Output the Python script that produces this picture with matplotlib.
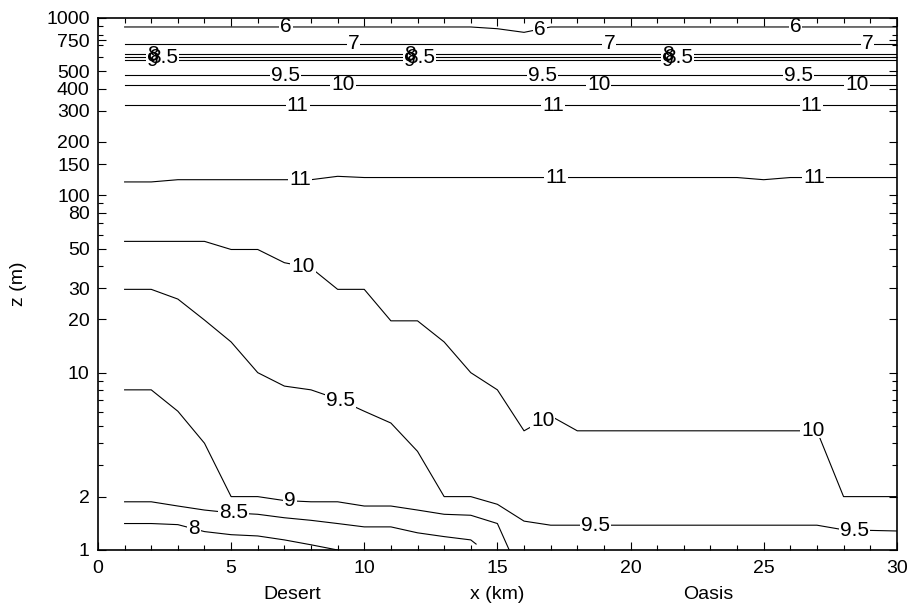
import numpy as np
import matplotlib.pyplot as plt
from matplotlib.ticker import LogLocator, MultipleLocator, NullFormatter
from matplotlib.patches import Rectangle
import matplotlib.transforms as mtransforms

plt.rcParams['font.family'] = ['Liberation Sans', 'DejaVu Sans']

#-- upper contours (nearly flat)
c6_x = [1, 14, 15, 16, 17, 30]
c6_z = [890, 890, 870, 830, 890, 890]
c7_x = [1, 30]
c7_z = [717, 717]
c8u_x = [1, 30]
c8u_z = [625, 625]
c85u_x = [1, 30]
c85u_z = [601, 601]
c9u_x = [1, 30]
c9u_z = [578, 578]
c95u_x = [1, 30]
c95u_z = [476, 476]
c10u_x = [1, 30]
c10u_z = [419, 419]
c11u_x = [1, 30]
c11u_z = [323, 323]

#-- lower contours
c11_x = [1, 2, 3, 8, 9, 10, 24, 25, 26, 30]
c11_z = [119, 119, 122.5, 122.5, 128, 126, 126, 122.5, 126, 126]
c10_x = [1, 4, 5, 6, 7, 8, 9, 10, 11, 12, 13, 14, 15, 16, 17, 18, 27, 28, 30]
c10_z = [55, 55, 49.5, 49.5, 41.7, 39, 29.5, 29.5, 19.6, 19.6, 14.9, 10.0, 8.0,
         4.7, 5.7, 4.7, 4.7, 2.0, 2.0]
c95_x = [1, 2, 3, 4, 5, 6, 7, 8, 9, 10, 11, 12, 13, 14, 15, 16, 17, 27, 28, 30]
c95_z = [29.5, 29.5, 26, 19.8, 14.9, 10.0, 8.4, 8.0, 7.1, 6.06, 5.2, 3.6, 2.0, 2.0,
         1.81, 1.455, 1.38, 1.38, 1.30, 1.28]
c9_x = [1, 2, 3, 4, 5, 6, 7, 8, 9, 10, 11, 12, 13, 14, 15, 16]
c9_z = [8.0, 8.0, 6.06, 4.0, 2.0, 2.0, 1.9, 1.87, 1.87, 1.77, 1.77, 1.68, 1.59, 1.57,
        1.41, 0.65]
c85_x = [1, 2, 3, 4, 5, 6, 7, 8, 9, 10, 11, 12, 13, 14, 14.2]
c85_z = [1.87, 1.87, 1.77, 1.68, 1.62, 1.59, 1.52, 1.47, 1.41, 1.35, 1.35, 1.25,
         1.19, 1.14, 1.08]
c8_x = [1, 2, 3, 4, 5, 6, 7, 8, 9, 9.4]
c8_z = [1.41, 1.41, 1.39, 1.27, 1.22, 1.2, 1.14, 1.07, 1.0, 0.965]

#-- contour labels: (x, z, text, label positions in km)
labels = [
    (c6_x, c6_z, '6', [7.05, 16.6, 26.2]),
    (c7_x, c7_z, '7', [9.6, 19.2, 28.9]),
    (c8u_x, c8u_z, '8', [2.05, 11.7, 21.4]),
    (c85u_x, c85u_z, '8.5', [2.45, 12.1, 21.8]),
    (c9u_x, c9u_z, '9', [2.05, 11.7, 21.4]),
    (c95u_x, c95u_z, '9.5', [7.05, 16.7, 26.3]),
    (c10u_x, c10u_z, '10', [9.2, 18.8, 28.5]),
    (c11u_x, c11u_z, '11', [7.5, 17.1, 26.8]),
    (c11_x, c11_z, '11', [7.6, 17.2, 26.9]),
    (c10_x, c10_z, '10', [7.7, 16.7, 26.85]),
    (c95_x, c95_z, '9.5', [9.1, 18.7, 28.4]),
    (c9_x, c9_z, '9', [7.2]),
    (c85_x, c85_z, '8.5', [5.1]),
    (c8_x, c8_z, '8', [3.6]),
]

ytick_vals = [1, 2, 10, 20, 30, 50, 80, 100, 150, 200, 300, 400, 500, 750, 1000]

#-- PLOT
fig = plt.figure(figsize=(9.14, 6.08), dpi=100)
ax = fig.add_axes([0.1072, 0.0954, 0.874, 0.875])

texts = []
for xs, zs, txt, lxs in labels:
    ax.plot(xs, zs, color='black', lw=0.8, zorder=2)
    for lx in lxs:
        lz = 10 ** np.interp(lx, xs, np.log10(zs))
        texts.append(ax.text(lx, lz, txt, ha='center', va='center', fontsize=15,
                             color='black', zorder=4))

ax.set_yscale('log')
ax.set_xlim(0, 30)
ax.set_ylim(1, 1000)
ax.set_yticks(ytick_vals, labels=[str(v) for v in ytick_vals])
ax.yaxis.set_minor_locator(LogLocator(base=10, subs=np.arange(2, 10)))
ax.yaxis.set_minor_formatter(NullFormatter())
ax.xaxis.set_major_locator(MultipleLocator(5))
ax.xaxis.set_minor_locator(MultipleLocator(1))
ax.tick_params(which='both', direction='in', top=True, right=True, labelsize=14)
ax.tick_params(which='major', length=6, width=0.8)
ax.tick_params(which='minor', length=3.5, width=0.8)
ax.tick_params(axis='y', pad=6)
ax.tick_params(axis='x', pad=7)
for s in ax.spines.values():
    s.set_linewidth(1.2)

ax.set_ylabel('z (m)', fontsize=14)
ax.yaxis.set_label_coords(-0.089, 0.5)
ax.set_xlabel('x (km)', fontsize=14)
ax.xaxis.set_label_coords(0.5, -0.067)

trans = mtransforms.blended_transform_factory(ax.transData, ax.transAxes)
ax.text(7.3, -0.067, 'Desert', transform=trans, ha='center', va='top', fontsize=14)
ax.text(22.9, -0.067, 'Oasis', transform=trans, ha='center', va='top', fontsize=14)

#-- white gaps in the lines behind the contour labels
fig.canvas.draw()
renderer = fig.canvas.get_renderer()
for t in texts:
    bb = t.get_window_extent(renderer)
    ax.add_patch(Rectangle((bb.x0 - 1, bb.y0 + 2), bb.width + 2, bb.height - 4,
                           transform=mtransforms.IdentityTransform(),
                           fc='white', ec='none', zorder=3))

fig.savefig('out.png', dpi=100)
